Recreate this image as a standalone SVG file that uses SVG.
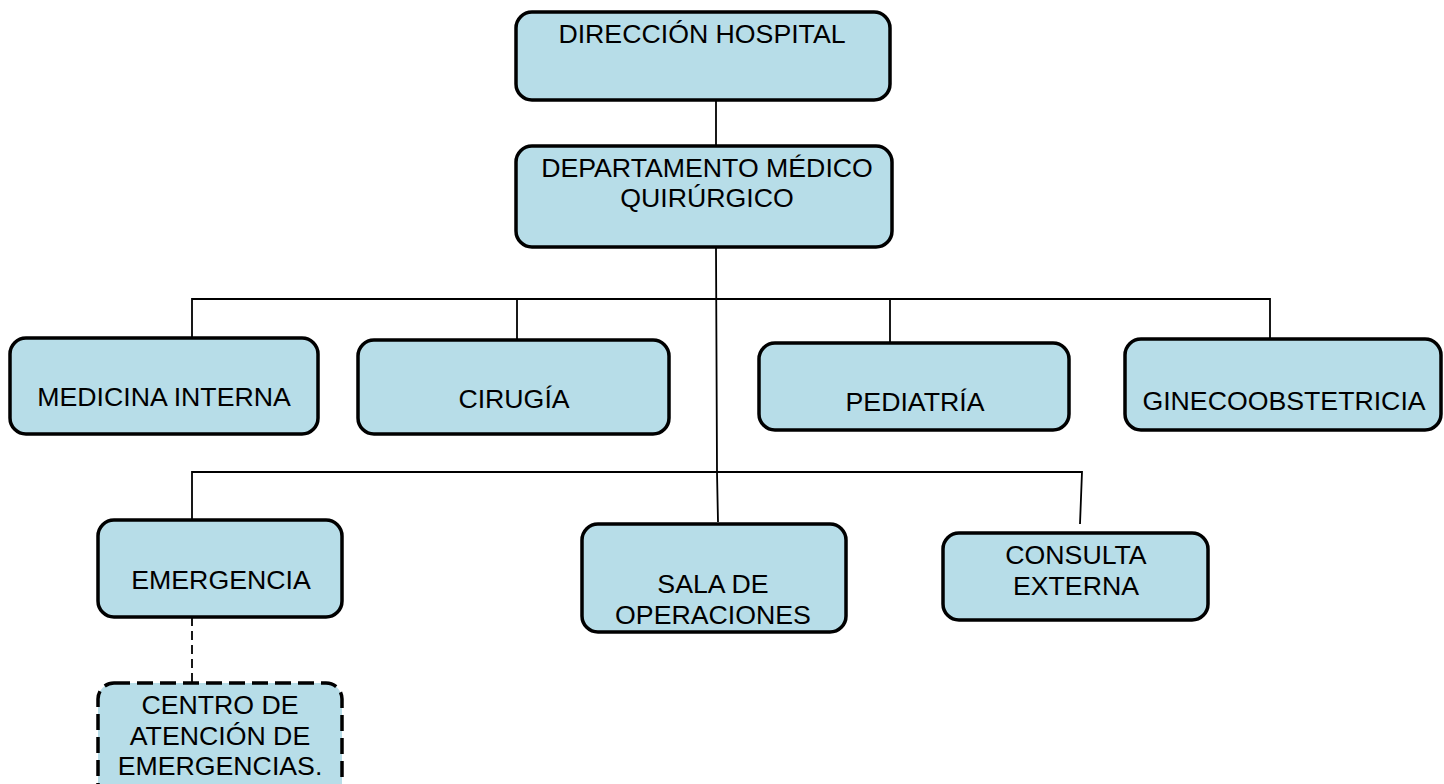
<svg xmlns="http://www.w3.org/2000/svg" width="1444" height="784" viewBox="0 0 1444 784">
<style>
.box{fill:#B7DDE8;stroke:#000;stroke-width:3.5}
.dbox{fill:#B7DDE8;stroke:#000;stroke-width:3.5;stroke-dasharray:16 7}
.ln{fill:none;stroke:#000;stroke-width:1.8}
.dln{fill:none;stroke:#000;stroke-width:1.8;stroke-dasharray:9 5}
text{font-family:"Liberation Sans",Arial,sans-serif;font-size:26.7px;fill:#000;text-anchor:middle}
</style>
<rect width="1444" height="784" fill="#fff"/>
<g id="connectors">
<line class="ln" x1="716" y1="100" x2="716" y2="146"/>
<polyline class="ln" points="716,247 717,472 718,522"/>
<polyline class="ln" points="192,338 192,299 1270,299 1270,343"/>
<line class="ln" x1="517" y1="299" x2="517" y2="340"/>
<line class="ln" x1="890" y1="299" x2="890" y2="343"/>
<polyline class="ln" points="192,520 192,472 1082,472 1080,524"/>
<line class="dln" x1="192" y1="617" x2="192" y2="683"/>
</g>
<g id="direccion">
<rect class="box" x="516" y="12" width="374" height="88" rx="16"/>
<text x="702" y="43">DIRECCIÓN HOSPITAL</text>
</g>
<g id="departamento">
<rect class="box" x="516" y="146" width="376" height="101" rx="16"/>
<text x="707" y="177">DEPARTAMENTO MÉDICO</text>
<text x="707" y="207">QUIRÚRGICO</text>
</g>
<g id="medicina">
<rect class="box" x="10" y="338" width="308" height="96" rx="16"/>
<text x="164" y="406">MEDICINA INTERNA</text>
</g>
<g id="cirugia">
<rect class="box" x="358" y="340" width="311" height="94" rx="16"/>
<text x="514" y="408">CIRUGÍA</text>
</g>
<g id="pediatria">
<rect class="box" x="759" y="343" width="310" height="87" rx="16"/>
<text x="915" y="411">PEDIATRÍA</text>
</g>
<g id="gineco">
<rect class="box" x="1125" y="339" width="316" height="91" rx="16"/>
<text x="1284" y="410">GINECOOBSTETRICIA</text>
</g>
<g id="emergencia">
<rect class="box" x="98" y="520" width="244" height="97" rx="16"/>
<text x="221" y="589">EMERGENCIA</text>
</g>
<g id="sala">
<rect class="box" x="582" y="524" width="264" height="108" rx="16"/>
<text x="713" y="593">SALA DE</text>
<text x="713" y="624">OPERACIONES</text>
</g>
<g id="consulta">
<rect class="box" x="943" y="533" width="265" height="87" rx="16"/>
<text x="1076" y="564">CONSULTA</text>
<text x="1076" y="595">EXTERNA</text>
</g>
<g id="centro">
<rect class="dbox" x="98" y="683" width="244" height="120" rx="16"/>
<text x="220" y="714">CENTRO DE</text>
<text x="220" y="745">ATENCIÓN DE</text>
<text x="220" y="775">EMERGENCIAS.</text>
</g>
</svg>
